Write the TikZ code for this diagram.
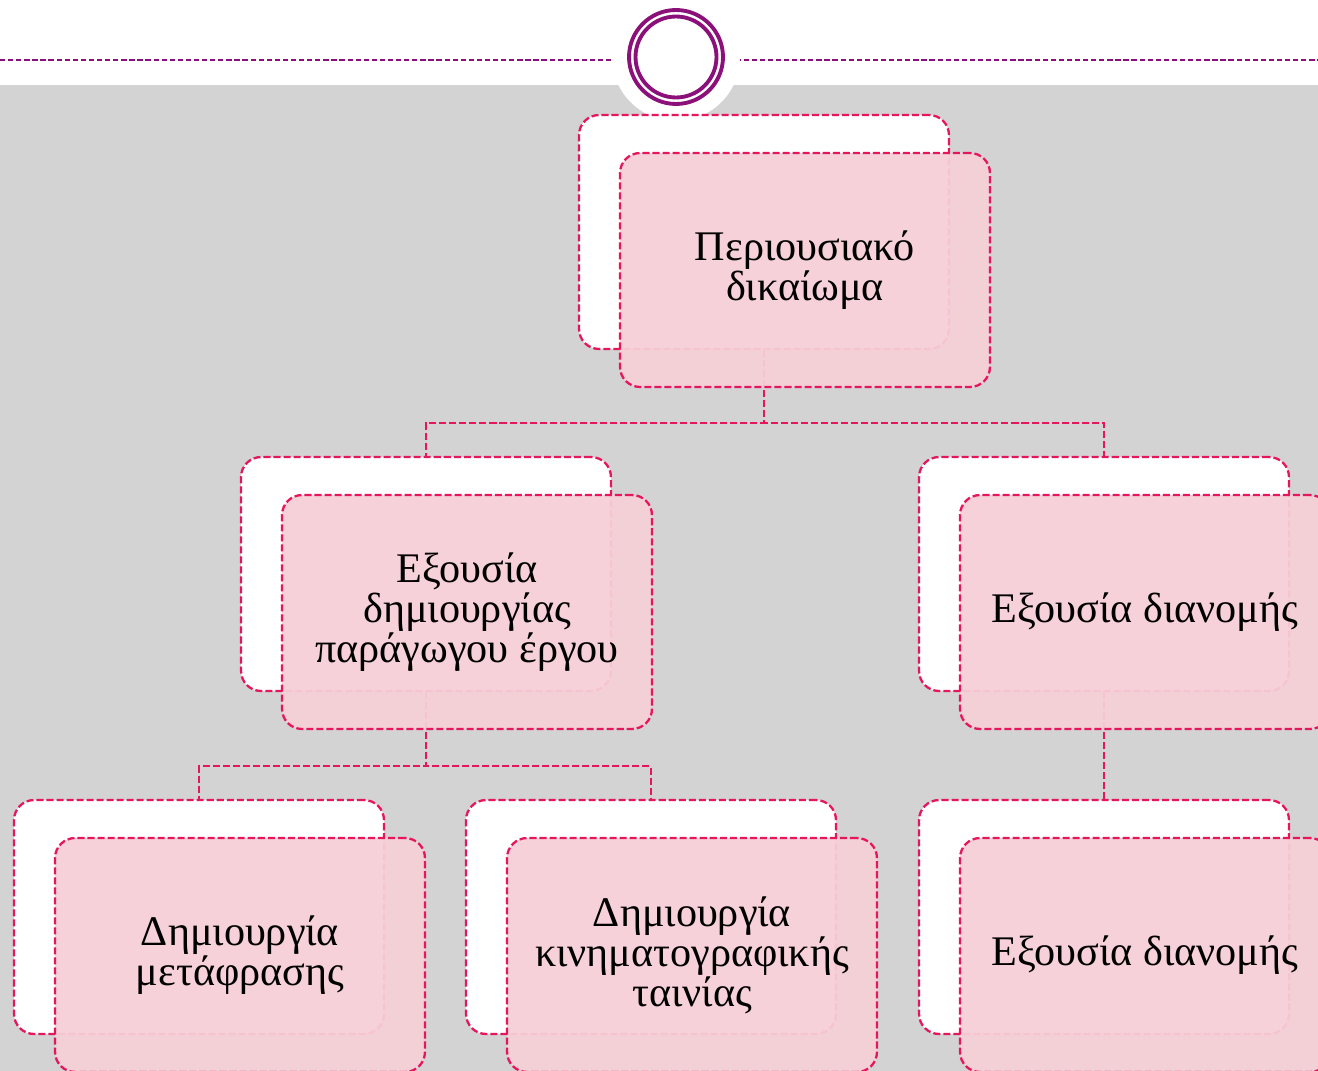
\documentclass[tikz,border=0pt]{standalone}
\usepackage{fontspec}
\setmainfont{Liberation Serif}
\usepackage{xcolor}
\usetikzlibrary{positioning}

\definecolor{crimson}{RGB}{230,22,92}
\definecolor{plum}{RGB}{140,16,122}
\definecolor{rosefill}{RGB}{246,207,215}
\definecolor{backgrey}{RGB}{211,211,211}

\begin{document}
\begin{tikzpicture}[
  x=0.02cm, y=-0.02cm,
  backbox/.style={rectangle, rounded corners=0.4cm, draw=crimson, fill=white, line width=1.3pt,
    dash pattern=on 4pt off 1.7pt, minimum width=7.4cm, minimum height=4.68cm, inner sep=0pt},
  frontbox/.style={backbox, fill=rosefill, fill opacity=0.94, text opacity=1, align=center,
    font=\fontsize{24}{22.7}\selectfont},
  connector/.style={draw=crimson, line width=1.3pt, dash pattern=on 4pt off 1.7pt}
  ]
  \useasboundingbox (0,0) rectangle (1318,1071);
  \clip (0,0) rectangle (1318,1071);

  % Banner
  \fill[backgrey] (0,85) rectangle (1318,1071);
  \draw[plum, line width=1pt, dash pattern=on 3pt off 1.6pt] (0,60) -- (1318,60);
  \node[circle, fill=white, minimum size=2.56cm, inner sep=0pt] (disc) at (676,57) {};
  \node[circle, draw=plum, line width=2.2pt, minimum size=1.88cm, inner sep=0pt] (ringout) at (disc.center) {};
  \node[circle, draw=plum, line width=2.2pt, minimum size=1.62cm, inner sep=0pt] (ringin) at (disc.center) {};

  % Back boxes
  \node[backbox] (back1) at (764,232) {};
  \node[backbox] (back2) at (426,574) {};
  \node[backbox] (back3) at (1104,574) {};
  \node[backbox] (back4) at (199,917) {};
  \node[backbox] (back5) at (651,917) {};
  \node[backbox] (back6) at (1104,917) {};

  % Connectors
  \draw[connector] (back1.south) -- ++(0,73) -| (back2.north);
  \draw[connector] (back1.south) -- ++(0,73) -| (back3.north);
  \draw[connector] (back2.south) -- ++(0,74) -| (back4.north);
  \draw[connector] (back2.south) -- ++(0,74) -| (back5.north);
  \draw[connector] (back3.south) -- (back6.north);

  % Front boxes
  \node[frontbox] (front1) at ([shift={(41,38)}]back1.center) {Περιουσιακό\\δικαίωμα};
  \node[frontbox] (front2) at ([shift={(41,38)}]back2.center) {Εξουσία\\δημιουργίας\\παράγωγου έργου};
  \node[frontbox] (front3) at ([shift={(41,38)}]back3.center) {Εξουσία διανομής};
  \node[frontbox] (front4) at ([shift={(41,38)}]back4.center) {Δημιουργία\\μετάφρασης};
  \node[frontbox] (front5) at ([shift={(41,38)}]back5.center) {Δημιουργία\\κινηματογραφικής\\ταινίας};
  \node[frontbox] (front6) at ([shift={(41,38)}]back6.center) {Εξουσία διανομής};

\end{tikzpicture}
\end{document}
